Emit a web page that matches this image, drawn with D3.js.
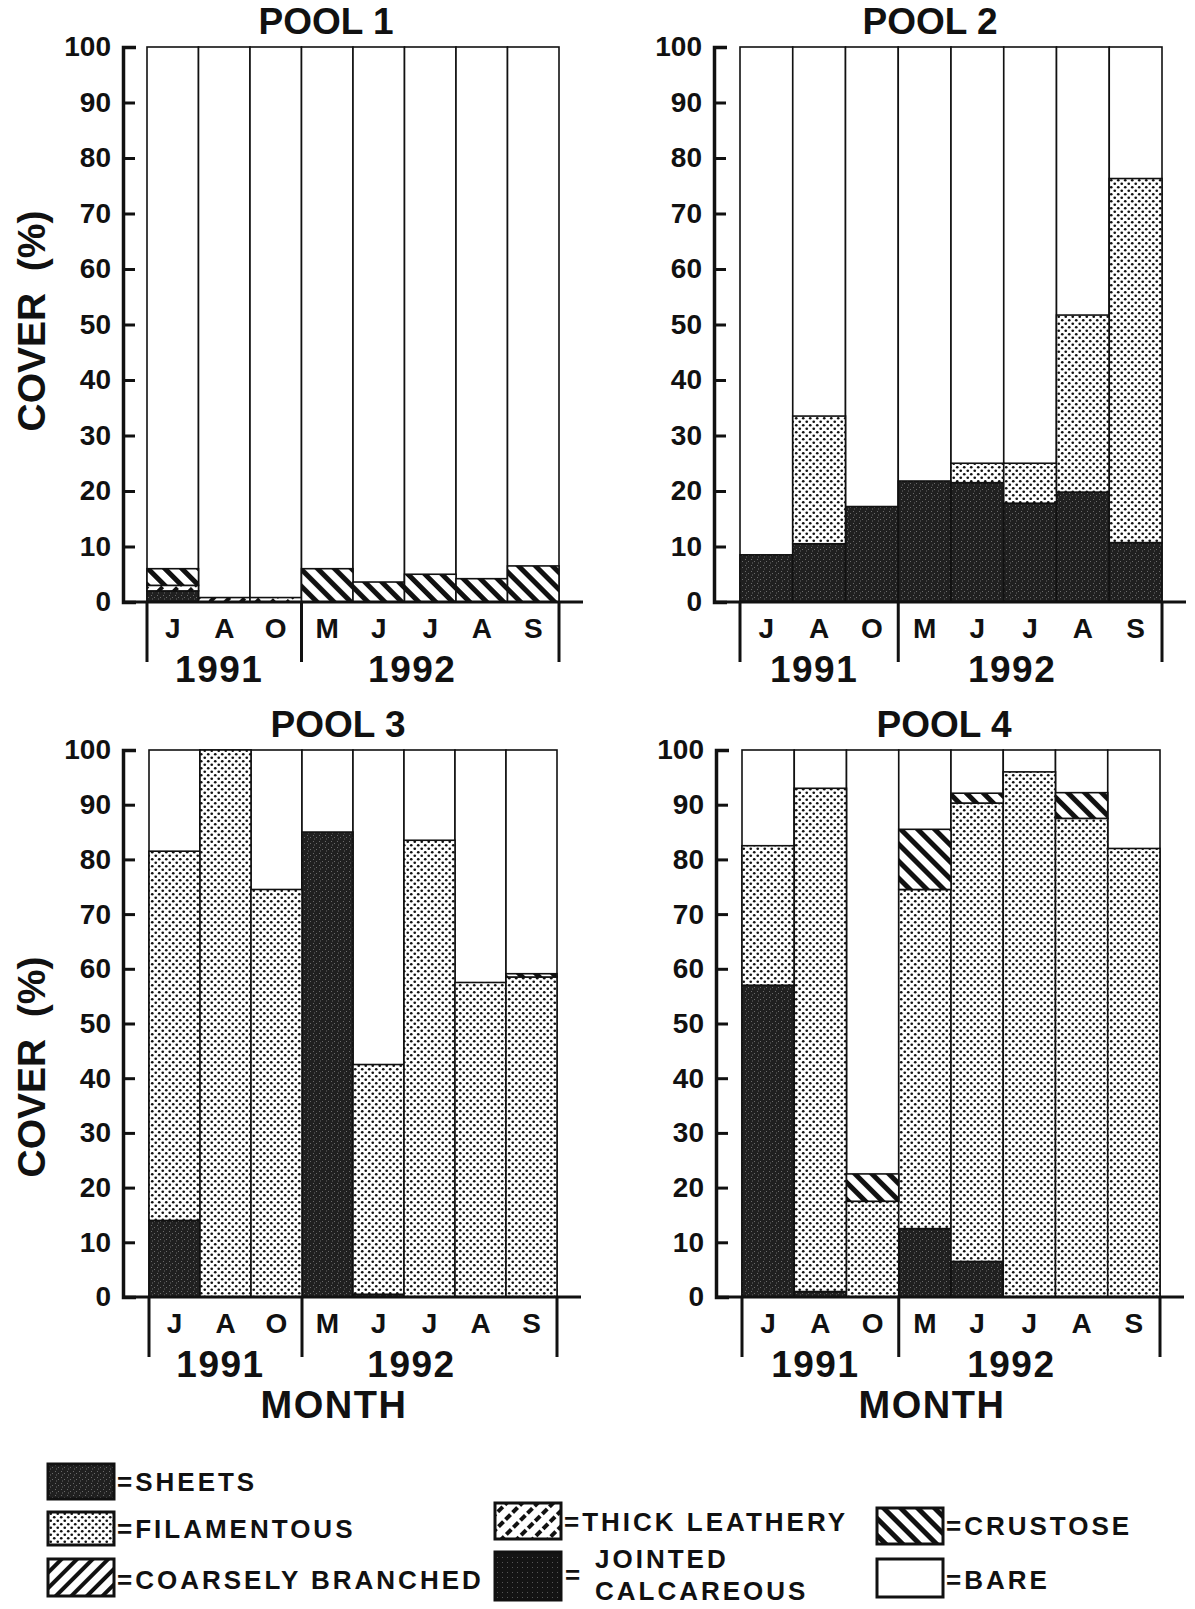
<!DOCTYPE html>
<html>
<head>
<meta charset="utf-8">
<script src="https://cdn.jsdelivr.net/npm/d3@7"></script>
<style>
  body { margin: 0; background: #fff; }
  svg text { font-family: "Liberation Sans", Arial, Helvetica, sans-serif; font-weight: bold; fill: #111; }
</style>
</head>
<body>
<svg id="chart" width="1195" height="1609"></svg>
<script>
// sampling months (same for every pool)
var months = ["J", "A", "O", "M", "J", "J", "A", "S"];
var yearLabels = ["1991", "1992"];
var yearSpans = [3, 5];
var yTicks = [0, 10, 20, 30, 40, 50, 60, 70, 80, 90, 100];

// cover classes, stacking order from the bottom; the rest up to 100 is bare
var keys = ["sheets", "filamentous", "coarsely", "leathery", "jointed", "crustose"];

// % cover
var pool1Sheets      = [2, 0, 0, 0, 0, 0, 0, 0];
var pool1Leathery    = [1, 0.8, 0.8, 0, 0, 0, 0, 0];
var pool1Crustose    = [3, 0, 0, 6, 3.6, 5, 4.2, 6.5];

var pool2Sheets      = [8.5, 10.5, 17.2, 21.8, 21.5, 17.8, 19.8, 10.7];
var pool2Filamentous = [0, 23, 0, 0, 3.5, 7.2, 31.9, 65.6];

var pool3Sheets      = [14, 0, 0, 85, 0.5, 0, 0, 0];
var pool3Filamentous = [67.5, 100, 74.5, 0, 42, 83.5, 57.5, 58.5];
var pool3Crustose    = [0, 0, 0, 0, 0, 0, 0, 0.6];

var pool4Sheets      = [57, 1, 0, 12.5, 6.5, 0, 0, 0];
var pool4Filamentous = [25.5, 92, 17.5, 62, 83.8, 96, 87.5, 82];
var pool4Crustose    = [0, 0, 5, 11, 1.8, 0, 4.7, 0];

// legend text (bare has no data series)
var legendKeys   = ["sheets", "filamentous", "coarsely", "leathery", "jointed", "crustose", "bare"];
var legendLabels = ["=SHEETS", "=FILAMENTOUS", "=COARSELY BRANCHED", "=THICK LEATHERY",
                    "JOINTED|CALCAREOUS", "=CRUSTOSE", "=BARE"];

function rows(series) {
    return months.map(function(m, i) {
        var r = {};
        keys.forEach(function(k) { r[k] = series[k] ? series[k][i] : 0; });
        return r;
    });
}

var pools = [
    rows({sheets: pool1Sheets, leathery: pool1Leathery, crustose: pool1Crustose}),
    rows({sheets: pool2Sheets, filamentous: pool2Filamentous}),
    rows({sheets: pool3Sheets, filamentous: pool3Filamentous, crustose: pool3Crustose}),
    rows({sheets: pool4Sheets, filamentous: pool4Filamentous, crustose: pool4Crustose})
];

// panel layout
var panels = [
    {title: "POOL 1", axisX: 123, x0: 147, x1: 559, top: 47, base: 602, titleX: 326, titleY: 34, yLabelY: 321, month: false},
    {title: "POOL 2", axisX: 714, x0: 740, x1: 1162, top: 47, base: 602, titleX: 930, titleY: 34, yLabelY: null, month: false},
    {title: "POOL 3", axisX: 123, x0: 149, x1: 557, top: 750, base: 1297, titleX: 338, titleY: 737, yLabelY: 1067, month: true},
    {title: "POOL 4", axisX: 716, x0: 742, x1: 1160, top: 750, base: 1297, titleX: 944, titleY: 737, yLabelY: null, month: true}
];

var svg = d3.select("#chart");
svg.append("rect").attr("width", 1195).attr("height", 1609).attr("fill", "#fff");

// fill patterns
var defs = svg.append("defs");

var p = defs.append("pattern").attr("id", "pat-sheets")
    .attr("patternUnits", "userSpaceOnUse").attr("width", 6).attr("height", 6);
p.append("rect").attr("width", 6).attr("height", 6).attr("fill", "#202020");
[[1, 1], [4, 3], [2, 4.5]].forEach(function(d) {
    p.append("rect").attr("x", d[0]).attr("y", d[1]).attr("width", 1).attr("height", 1).attr("fill", "#6a6a6a");
});

p = defs.append("pattern").attr("id", "pat-filamentous")
    .attr("patternUnits", "userSpaceOnUse").attr("width", 7).attr("height", 7);
p.append("rect").attr("width", 7).attr("height", 7).attr("fill", "#fff");
p.append("circle").attr("cx", 1.75).attr("cy", 1.75).attr("r", 1.35).attr("fill", "#111");
p.append("circle").attr("cx", 5.25).attr("cy", 5.25).attr("r", 1.35).attr("fill", "#111");

function stripes(id, angle, w, bw, gap) {
    var s = defs.append("pattern").attr("id", id)
        .attr("patternUnits", "userSpaceOnUse").attr("width", w).attr("height", gap ? 10 : w)
        .attr("patternTransform", "rotate(" + angle + ")");
    s.append("rect").attr("width", w).attr("height", gap ? 10 : w).attr("fill", "#fff");
    s.append("rect").attr("width", bw).attr("height", gap ? 10 - gap : w).attr("fill", "#111");
}
stripes("pat-coarsely", 45, 11, 4, 0);
stripes("pat-leathery", 45, 11, 4, 3);
stripes("pat-crustose", -45, 12, 5, 0);

p = defs.append("pattern").attr("id", "pat-jointed")
    .attr("patternUnits", "userSpaceOnUse").attr("width", 5).attr("height", 5);
p.append("rect").attr("width", 5).attr("height", 5).attr("fill", "#141414");
p.append("rect").attr("x", 2).attr("y", 2).attr("width", 1).attr("height", 1).attr("fill", "#555");

function fillFor(k) { return k == "bare" ? "#fff" : "url(#pat-" + k + ")"; }

var stack = d3.stack().keys(keys);

panels.forEach(function(cfg, pi) {
    var data = pools[pi];
    var g = svg.append("g");

    var x = d3.scaleBand().domain(d3.range(months.length)).range([cfg.x0, cfg.x1]).padding(0);
    var y = d3.scaleLinear().domain([0, 100]).range([cfg.base, cfg.top]);

    // bare background of every bar
    g.selectAll("rect.bare").data(data).enter().append("rect")
        .attr("class", "bare")
        .attr("x", function(d, i) { return x(i); })
        .attr("y", y(100))
        .attr("width", x.bandwidth())
        .attr("height", y(0) - y(100))
        .attr("fill", "#fff").attr("stroke", "#111").attr("stroke-width", 1.6);

    var layers = stack(data);
    g.selectAll("g.layer").data(layers).enter().append("g")
        .attr("class", "layer")
        .attr("fill", function(d) { return fillFor(d.key); })
        .selectAll("rect").data(function(d) { return d.filter(function(s) { return s[1] - s[0] > 0; }); })
        .enter().append("rect")
        .attr("x", function(d) { return x(data.indexOf(d.data)); })
        .attr("y", function(d) { return y(d[1]); })
        .attr("width", x.bandwidth())
        .attr("height", function(d) { return y(d[0]) - y(d[1]); })
        .attr("stroke", "#111").attr("stroke-width", 1.6);

    // y axis, ticks pointing in towards the bars
    var ax = g.append("g")
        .attr("transform", "translate(" + cfg.axisX + ",0)")
        .call(d3.axisLeft(y).tickValues(yTicks).tickSize(-12).tickSizeOuter(-13).tickPadding(12));
    ax.attr("font-size", 28).attr("font-family", null);
    ax.select(".domain").attr("stroke", "#111").attr("stroke-width", 3.5);
    ax.selectAll(".tick line").attr("stroke", "#111").attr("stroke-width", 3);
    ax.selectAll(".tick text").attr("fill", "#111");

    // baseline running out past the bars
    g.append("line")
        .attr("x1", cfg.axisX).attr("x2", cfg.x1 + 24)
        .attr("y1", y(0)).attr("y2", y(0))
        .attr("stroke", "#111").attr("stroke-width", 3);

    // month letters
    g.selectAll("text.month").data(months).enter().append("text")
        .attr("class", "month")
        .attr("x", function(d, i) { return x(i) + x.bandwidth() / 2; })
        .attr("y", cfg.base + 36)
        .attr("text-anchor", "middle")
        .attr("font-size", 28)
        .text(function(d) { return d; });

    // year brackets and labels
    var start = 0;
    var seps = [0];
    yearSpans.forEach(function(n, yi) {
        var a = x(start), b = x(start + n - 1) + x.bandwidth();
        g.append("text")
            .attr("x", (a + b) / 2 - (yi == 0 ? 5 : 18))
            .attr("y", cfg.base + 80)
            .attr("text-anchor", "middle")
            .attr("font-size", 37)
            .attr("letter-spacing", 1.5)
            .text(yearLabels[yi]);
        start += n;
        seps.push(start);
    });
    g.selectAll("line.sep").data(seps).enter().append("line")
        .attr("class", "sep")
        .attr("x1", function(d) { return d < months.length ? x(d) : cfg.x1; })
        .attr("x2", function(d) { return d < months.length ? x(d) : cfg.x1; })
        .attr("y1", cfg.base).attr("y2", cfg.base + 60)
        .attr("stroke", "#111").attr("stroke-width", 3);

    g.append("text")
        .attr("x", cfg.titleX).attr("y", cfg.titleY)
        .attr("text-anchor", "middle")
        .attr("font-size", 37)
        .text(cfg.title);

    if (cfg.yLabelY) {
        g.append("text")
            .attr("transform", "translate(45," + cfg.yLabelY + ")rotate(-90)")
            .attr("text-anchor", "middle")
            .attr("font-size", 39)
            .attr("xml:space", "preserve")
            .text("COVER  (%)");
    }
    if (cfg.month) {
        g.append("text")
            .attr("x", (cfg.x0 + cfg.x1) / 2 - 19)
            .attr("y", cfg.base + 121)
            .attr("text-anchor", "middle")
            .attr("font-size", 38)
            .attr("letter-spacing", 1.5)
            .text("MONTH");
    }
});

// legend
var legendPos = [
    {x: 48, y: 1464, h: 35, ty: 1491},
    {x: 48, y: 1512, h: 33, ty: 1538},
    {x: 48, y: 1559, h: 37, ty: 1589},
    {x: 495, y: 1503, h: 36, ty: 1531},
    {x: 495, y: 1552, h: 48, ty: 1568},
    {x: 877, y: 1508, h: 36, ty: 1535},
    {x: 877, y: 1559, h: 38, ty: 1589}
];
var legend = svg.append("g");
legendKeys.forEach(function(k, i) {
    var pos = legendPos[i];
    legend.append("rect")
        .attr("x", pos.x).attr("y", pos.y)
        .attr("width", 66).attr("height", pos.h)
        .attr("fill", fillFor(k)).attr("stroke", "#111").attr("stroke-width", 3);
    var parts = legendLabels[i].split("|");
    if (parts.length == 1) {
        legend.append("text")
            .attr("x", pos.x + 69).attr("y", pos.ty)
            .attr("font-size", 26).attr("letter-spacing", 3)
            .text(parts[0]);
    } else {
        legend.append("text")
            .attr("x", pos.x + 70).attr("y", pos.ty + 16)
            .attr("font-size", 26)
            .text("=");
        parts.forEach(function(t, j) {
            legend.append("text")
                .attr("x", pos.x + 100).attr("y", pos.ty + j * 32)
                .attr("font-size", 26).attr("letter-spacing", 3)
                .text(t);
        });
    }
});
</script>
</body>
</html>
